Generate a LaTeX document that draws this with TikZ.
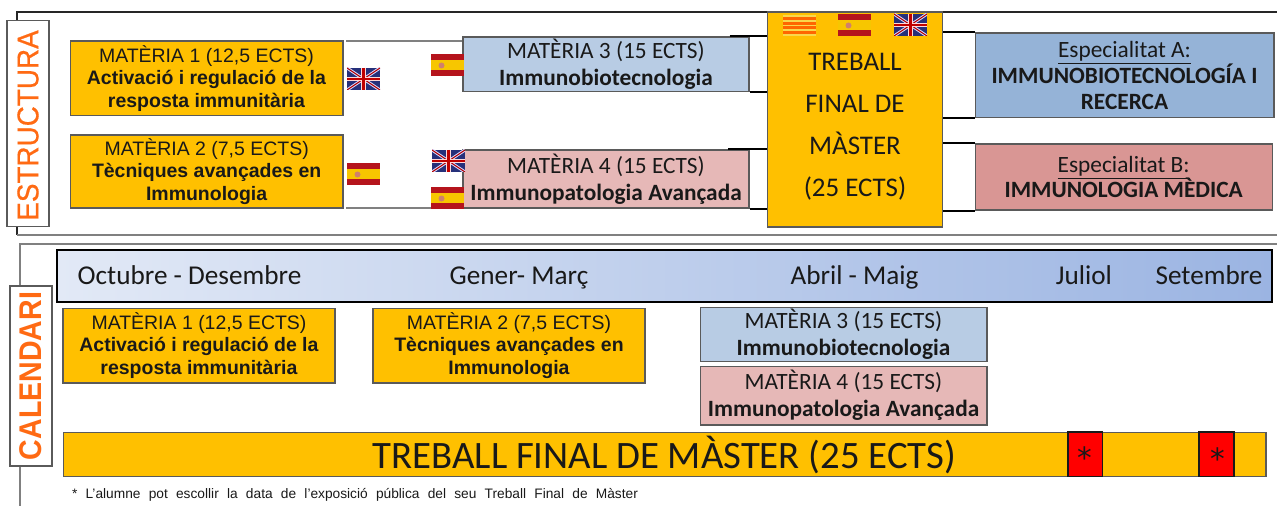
\documentclass[tikz,border=0pt]{standalone}
\usepackage{fontspec}
\setmainfont{Liberation Sans}
\newfontfamily\calb{Carlito}
\newfontfamily\estfont[FakeBold=0.6]{Liberation Sans}
\newfontfamily\astfont{DejaVu Sans}
\definecolor{gold}{HTML}{FFC000}
\definecolor{edgegrey}{HTML}{5A5A5A}
\definecolor{lineg}{HTML}{808080}
\definecolor{blueL}{HTML}{B8CCE4}
\definecolor{pinkL}{HTML}{E6B8B7}
\definecolor{blueS}{HTML}{95B3D7}
\definecolor{pinkS}{HTML}{D99694}
\definecolor{orangeT}{HTML}{FF6A13}
\definecolor{flagred}{HTML}{B5141C}
\definecolor{flagyel}{HTML}{F7C600}
\definecolor{flagnavy}{HTML}{26307A}
\definecolor{hdrL}{HTML}{E2E9F6}
\definecolor{hdrR}{HTML}{9BB4E2}
\newcommand{\fsz}[1]{\fontsize{#1}{#1}\selectfont}
\newcommand{\flagES}[1]{\begin{scope}[shift={(#1)}]
 \fill[flagred] (0,0) rectangle (33,22);
 \fill[flagyel] (0,6) rectangle (33,16);
 \fill[flagred!50!brown!70!white] (10.5,11.5) circle (3);
\end{scope}}
\newcommand{\flagUK}[1]{\begin{scope}[shift={(#1)}]
 \begin{scope}
 \clip (0,0) rectangle (33,22);
 \fill[flagnavy] (0,0) rectangle (33,22);
 \draw[white!85!blue,line width=2.2pt] (0,0) -- (33,22) (0,22) -- (33,0);
 \draw[red!70!black,line width=0.8pt] (0,0) -- (33,22) (0,22) -- (33,0);
 \draw[white!85!red,line width=3.6pt] (16.5,0) -- (16.5,22) (0,11) -- (33,11);
 \draw[red!75!black,line width=1.8pt] (16.5,0) -- (16.5,22) (0,11) -- (33,11);
 \end{scope}
\end{scope}}
\newcommand{\flagCA}[1]{\begin{scope}[shift={(#1)}]
 \fill[flagyel!70!white] (0,0) rectangle (33,21);
 \foreach \yy in {2.5,7,11.5,16} {\fill[orange!80!red] (0,\yy) rectangle (33,\yy+2.8);}
\end{scope}}
\tikzset{
 x=0.75pt,y=-0.75pt,
 boxbase/.style={draw=edgegrey,line width=0.8pt,inner sep=0pt,align=center,text=black!90},
 mat/.style={boxbase,fill=gold,font=\fsz{14.6pt}},
 calmat/.style={boxbase,font=\calb\fsz{17.5pt}},
 tagbox/.style={draw=edgegrey,fill=white,line width=0.8pt,inner sep=0pt,text=orangeT},
 frameline/.style={draw=black!85,line width=0.8pt},
 greyline/.style={draw=lineg,line width=0.9pt},
 bracket/.style={draw=black,line width=1.5pt},
 month/.style={font=\calb\fsz{20.4pt},text=black!90,inner sep=0pt,anchor=base},
 redmark/.style={draw=black!90,line width=1.2pt,fill=red,minimum width=26.2pt,minimum height=33.2pt,inner sep=0pt},
 starmark/.style={font=\astfont\fsz{22pt},inner sep=0pt,text=black!90},
}
\begin{document}
\begin{tikzpicture}
\useasboundingbox (0,0) rectangle (1277,506);
% frames
\draw[frameline] (1277,12) -- (17,12) -- (17,235);
\draw[greyline] (17,235) -- (1277,235);
\draw[greyline] (1277,244) -- (20,244) -- (20,506);
% tags
\node[tagbox,minimum width=31.5pt,minimum height=155pt,font=\estfont\fsz{20.9pt}] (tagE) at (28,123.5) {\rotatebox{90}{\scalebox{1}[1.08]{ESTRUCTURA}\hspace{3pt}}};
\node[tagbox,minimum width=31.5pt,minimum height=135pt,font=\bfseries\fsz{21.4pt}] (tagC) at (31,376) {\rotatebox{90}{\scalebox{1}[1.1]{CALENDARI}}};
% structure boxes
\node[mat,minimum width=204.7pt,minimum height=56.2pt] (m1) at (206.5,78.5) {MATÈRIA 1 (12,5 ECTS)\\[2.5pt]\textbf{Activació i regulació de la}\\[2.5pt]\textbf{resposta immunitària}};
\node[mat,minimum width=204.4pt,minimum height=54.7pt] (m2) at (206.7,171.5) {MATÈRIA 2 (7,5 ECTS)\\[2.5pt]\textbf{Tècniques avançades en}\\[2.5pt]\textbf{Immunologia}};
\node[calmat,fill=blueL,minimum width=214.5pt,minimum height=41.2pt] (m3) at (606,64.5) {MATÈRIA 3 (15 ECTS)\\[2.6pt]\textbf{Immunobiotecnologia}};
\node[calmat,fill=pinkL,minimum width=214.5pt,minimum height=43.5pt] (m4) at (606,179) {MATÈRIA 4 (15 ECTS)\\[3pt]\textbf{Immunopatologia Avançada}};
\node[boxbase,fill=gold,minimum width=131.2pt,minimum height=161.2pt] (tfm) at (855,119.5) {};
\node[font=\calb\fsz{20.2pt},text=black!90,inner sep=0pt,align=center] (tfmtext) at (855,126.5) {TREBALL\\[11.3pt]FINAL DE\\[11.3pt]MÀSTER\\[11.3pt](25 ECTS)};
\node[calmat,fill=blueS,minimum width=224.2pt,minimum height=63.7pt] (sa) at (1124.5,75.5) {\underline{Especialitat A:}\\[-0.5pt]\textbf{IMMUNOBIOTECNOLOGÍA I}\\[2pt]\textbf{RECERCA}};
\node[calmat,fill=pinkS,minimum width=223pt,minimum height=49.5pt] (sb) at (1123.7,177) {\underline{Especialitat B:}\\[-2pt]\textbf{IMMUNOLOGIA MÈDICA}};
% connectors
\coordinate (m1free) at (346,41);
\coordinate (m2free) at (346,208);
\draw[greyline] (m1free) -- (m1free -| m3.west);
\draw[greyline] (m2free) -- (m2free -| m4.west);
\draw[bracket] ([xshift=-15]m3.north east) -- (m3.north east -| tfm.west);
\draw[bracket] (m3.south east) -- (m3.south east -| tfm.west);
\draw[bracket] ([xshift=-16]m4.north east) -- (m4.north east -| tfm.west);
\draw[bracket] (m4.south east) -- (m4.south east -| tfm.west);
\draw[bracket] (sa.north west) -- (sa.north west -| tfm.east);
\draw[bracket] (sa.south west) -- (sa.south west -| tfm.east);
\draw[bracket] (sb.north west) -- (sb.north west -| tfm.east);
\draw[bracket] (sb.south west) -- (sb.south west -| tfm.east);
% flags
\flagUK{347,68}
\flagES{347,163}
\flagES{431,54}
\flagUK{432,150}
\flagES{431,187}
\flagCA{783,15}
\flagES{838,14}
\flagUK{894,14}
% calendar
\node[draw=black,line width=1.1pt,left color=hdrL,right color=hdrR,minimum width=911pt,minimum height=39pt,inner sep=0pt] (hdr) at (664.5,276) {};
\node[month] (mo1) at (189.5,284) {Octubre - Desembre};
\node[month] (mo2) at (519,284) {Gener- Març};
\node[month] (mo3) at (854.5,284) {Abril - Maig};
\node[month] (mo4) at (1084,284) {Juliol};
\node[month] (mo5) at (1209,284) {Setembre};
\node[mat,minimum width=204pt,minimum height=56.2pt] (c1) at (199,345.5) {MATÈRIA 1 (12,5 ECTS)\\[2.5pt]\textbf{Activació i regulació de la}\\[2.5pt]\textbf{resposta immunitària}};
\node[mat,minimum width=204pt,minimum height=56.2pt] (c2) at (509,345.5) {MATÈRIA 2 (7,5 ECTS)\\[2.5pt]\textbf{Tècniques avançades en}\\[2.5pt]\textbf{Immunologia}};
\node[calmat,fill=blueL,minimum width=215.2pt,minimum height=40.5pt] (c3) at (843.5,334.5) {MATÈRIA 3 (15 ECTS)\\[2.6pt]\textbf{Immunobiotecnologia}};
\node[calmat,fill=pinkL,minimum width=215.2pt,minimum height=44.2pt] (c4) at (843.5,395.5) {MATÈRIA 4 (15 ECTS)\\[2.6pt]\textbf{Immunopatologia Avançada}};
\node[boxbase,fill=gold,minimum width=902.2pt,minimum height=33.4pt] (bar) at (664.5,454.3) {};
\node[font=\calb\fsz{29.1pt},text=black!90,inner sep=0pt] (bartext) at (664.5,455) {TREBALL FINAL DE MÀSTER (25 ECTS)};
\node[redmark] (st1) at (1085.2,454.3) {};
\node[redmark] (st2) at (1216.5,454.3) {};
\node[starmark] (as1) at (1085.3,457.5) {*};
\node[starmark] (as2) at (1217.7,458.5) {*};
\node[font=\fsz{10.3pt},inner sep=0pt,text=black!90] (foot) at (355,494.5) {\makebox[424.5pt][s]{* L’alumne pot escollir la data de l’exposició pública del seu Treball Final de Màster}};
\end{tikzpicture}
\end{document}
